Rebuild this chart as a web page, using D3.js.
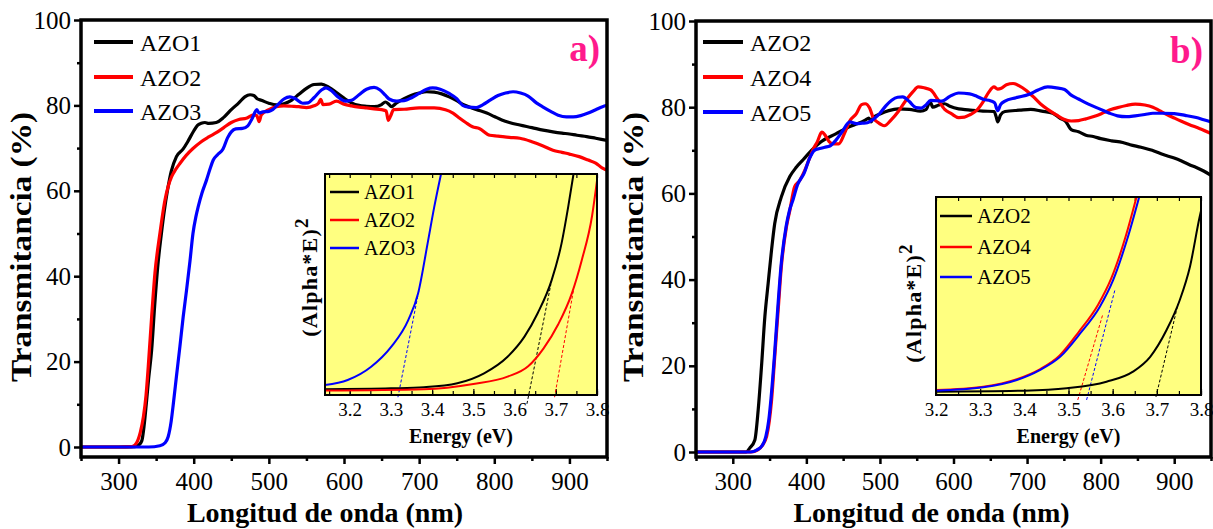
<!DOCTYPE html>
<html>
<head>
<meta charset="utf-8">
<script src="https://cdn.jsdelivr.net/npm/d3@7"></script>
</head>
<body style="margin:0;background:#fff">
<svg id="chart" width="1213" height="529"></svg>
<script>
// ---- data ----
var seriesA = ["AZO1", "AZO2", "AZO3"];
var seriesB = ["AZO2", "AZO4", "AZO5"];
var xTicks = [300, 400, 500, 600, 700, 800, 900];
var xMinor = [250, 350, 450, 550, 650, 750, 850, 950];
var yTicks = [0, 20, 40, 60, 80, 100];
var yMinor = [10, 30, 50, 70, 90];
var eTicks = [3.2, 3.3, 3.4, 3.5, 3.6, 3.7, 3.8];

// panel a) transmittance, [nm, %]
var a_azo1 = [[250,0],[300,0],[322,0.1],[327,0.5],[331,1.5],[334,5],[337,10.3],[340,16],[344,22.7],[348,33],[352,42],[357,50],[361,55.5],[365,60],[370,64.5],[377,68],[386,69.8],[392,71.5],[400,74],[405,75.3],[410,75.8],[415,76],[420,75.8],[430,76],[440,77.2],[450,79],[460,80.6],[468,82],[475,82.5],[480,82.3],[485,81.5],[490,81.2],[500,80.5],[510,80.1],[520,80.4],[530,81.2],[540,82.6],[550,84],[560,84.9],[570,85],[580,84.2],[590,83],[600,81.7],[610,80.6],[620,80],[630,79.8],[640,79.7],[650,80.2],[655,80.8],[660,80.2],[663,79.7],[670,80.6],[680,81.6],[690,82.4],[700,82.9],[710,83.2],[720,83.1],[730,82.7],[740,82],[750,81.1],[760,80.1],[770,79.4],[780,78.8],[790,78.2],[800,77.4],[810,76.6],[820,76],[834,75.4],[850,74.8],[865,74.2],[878,73.8],[890,73.5],[900,73.3],[910,73],[923,72.7],[935,72.3],[950,71.8]];
var a_azo2 = [[250,0],[300,0],[318,0.1],[324,1],[329,3.5],[333,7],[336.5,12],[339.5,18.8],[344,30.5],[348.4,40.7],[355,50],[361.7,57.8],[366,61],[370.6,63.3],[376,65],[381.6,66.4],[390,68.3],[399,69.9],[410,71.5],[420,72.6],[430,73.6],[440,74.8],[450,76],[460,76.7],[470,77],[480,77.8],[484,77.6],[487,76.2],[490,77.8],[500,79],[510,79.7],[520,79.9],[530,79.8],[540,79.7],[550,79.5],[560,79.9],[566,80.5],[569,81.4],[572,80.2],[580,80.3],[590,81],[600,80.3],[610,79.9],[620,79.6],[630,79.4],[640,79.2],[650,79],[656,78.7],[659,76.5],[662,77.5],[666,79],[680,79.1],[700,79.4],[720,79.4],[735,79],[745,78.2],[754,77],[762,76],[771,75],[780,74.6],[794,73],[805,72.8],[820,72.5],[834,72.3],[850,71.5],[865,70.5],[878,69.5],[890,69],[900,68.6],[913,68],[925,67.2],[935,66.5],[944,65.3],[950,64.8]];
var a_azo3 = [[250,0],[340,0],[355,0.3],[362,1],[366,2.4],[370,6],[373,10.3],[377,16.5],[381.6,23.5],[386,30.5],[390.5,36.8],[395,43.5],[399,50],[403,54],[406,56.3],[411,59.5],[417,62.5],[422,65.3],[426,67.2],[432,68.5],[439,69.8],[445,72.4],[450,73.8],[456,74.5],[465,74.6],[472,75.2],[478,77],[484,79],[487,78.2],[492,78.5],[500,78.6],[505,79],[512,80.2],[520,81.5],[528,82],[535,81.6],[545,80.5],[552,80.6],[560,81.8],[570,83.6],[576,84.1],[583,83.5],[592,82],[602,81],[610,81.2],[620,82.5],[630,83.8],[640,84.2],[648,83.6],[655,82.4],[660,81.5],[670,81],[680,81.1],[690,81.8],[700,82.8],[710,83.8],[718,84.1],[728,83.8],[740,82.8],[750,81.6],[758,80],[766,79.6],[776,79.5],[785,80.2],[795,81.3],[805,82.3],[815,82.9],[825,83.2],[835,82.9],[845,82.2],[856,80.6],[865,79.6],[875,78.6],[885,77.7],[896,77.3],[905,77.3],[915,77.6],[925,78.2],[935,79],[944,79.7],[950,80]];

// panel b) transmittance, [nm, %]
var b_azo2 = [[250,0],[318,0],[323,0.9],[330,2.8],[334.5,9.7],[339,19.8],[343.6,31.4],[348,39],[352.7,46.9],[357,53],[366,59.2],[377.5,63.9],[386,66],[395.6,67.8],[407,70],[420,72],[440,73.8],[460,75.6],[470,76.2],[480,77],[485,77.5],[488,76.6],[491,77.6],[500,78.4],[512,79.2],[525,79.6],[540,79.5],[555,79.1],[563,79.5],[568,81.3],[572,80],[580,80.5],[588,80.8],[595,80.2],[607,79.6],[620,79.4],[640,79.1],[655,79],[658,77.8],[660,76.6],[664,78.2],[670,79],[690,79.3],[705,79.5],[720,79.1],[735,78.6],[745,77.4],[752,76.8],[760,74.8],[770,74.3],[780,73.5],[790,73.2],[800,72.7],[815,72.2],[830,71.8],[840,71.3],[855,70.7],[870,70],[885,69],[900,68.2],[910,67.5],[920,66.7],[930,66],[940,65.2],[950,64.2]];
var b_azo4 = [[250,0],[325,0],[334,0.5],[340,1.5],[346,3.6],[349.5,7],[352.7,12],[357,22],[361.7,33],[366,43],[373,52.3],[377.5,56],[384,61.5],[391,63],[398,65.4],[404,68],[410,70.5],[415,72],[421,74.2],[426,73.4],[431,72],[436,71.5],[444,71.5],[452,74],[459,76.8],[468,78.5],[475,80.6],[480,80.8],[486,79.8],[491,77.5],[497,76.5],[506,75.7],[515,77],[525,79],[535,81.5],[545,83.6],[552,84.7],[560,84.5],[569,84],[578,82],[588,79.5],[597,78.5],[607,77.6],[615,77.7],[623,78.3],[631,79.2],[640,81.2],[648,83.5],[655,84.7],[660,84.2],[665,84.4],[672,85.2],[681,85.5],[690,84.9],[698,84],[708,82.5],[718,80.8],[728,79.5],[740,78.2],[750,77.2],[760,76.8],[770,76.9],[780,77.3],[794,78],[805,78.8],[815,79.5],[823,79.9],[835,80.4],[847,80.7],[860,80.5],[871,80],[880,79.2],[890,78.3],[900,77.5],[909,76.8],[920,76],[935,75],[950,73.9]];
var b_azo5 = [[250,0],[324,0],[333,0.5],[340,1.5],[345,3.6],[349,7.5],[352,12.5],[356.5,22],[361,33],[365.5,43],[372.5,52.3],[377,56],[382,58.6],[388,62],[397,64.7],[404,68],[411,70],[418,70.4],[425,70.7],[432,71],[440,72.3],[449,74.4],[459,76.6],[468,76.2],[476,76.3],[483,76.4],[492,77.3],[500,78.6],[508,80.3],[516,81.6],[524,82.3],[531,82.4],[540,81.3],[549,79.9],[556,79.8],[563,80.6],[569,81.6],[577,81.5],[584,81.4],[595,82.5],[607,83.3],[622,83.1],[632,82.5],[641,81.8],[650,81.5],[656,81],[660,79.2],[664,80.6],[670,81.4],[685,82.2],[703,83],[715,84],[728,84.7],[740,84.5],[751,84.1],[760,82.8],[770,81.9],[785,80.6],[800,79.5],[812,78.6],[823,78],[835,77.8],[847,78],[860,78.3],[871,78.6],[885,78.6],[900,78.5],[915,78.1],[930,77.6],[940,77.1],[950,76.6]];

// insets: (Alpha*E)^2 in arbitrary units (0..1 = inset height), [eV, value]
var ia_azo1 = [[3.14,0.026],[3.3,0.03],[3.38,0.035],[3.461,0.053],[3.526,0.098],[3.583,0.173],[3.624,0.264],[3.656,0.37],[3.69,0.52],[3.714,0.686],[3.73,0.85],[3.743,1.0]];
var ia_azo2 = [[3.14,0.02],[3.38,0.026],[3.5,0.05],[3.583,0.083],[3.633,0.13],[3.67,0.21],[3.706,0.32],[3.739,0.46],[3.763,0.61],[3.788,0.81],[3.8,0.97]];
var ia_azo3 = [[3.14,0.045],[3.195,0.068],[3.252,0.128],[3.301,0.219],[3.342,0.339],[3.366,0.46],[3.389,0.686],[3.405,0.85],[3.4215,1.0]];
// dashed linear fits, same order as the series
var ia_fits = [[[3.63,-0.04],[3.688,0.5]], [[3.697,-0.01],[3.743,0.475]], [[3.317,-0.01],[3.368,0.475]]];

var ib_azo2 = [[3.2,0.017],[3.4,0.022],[3.496,0.034],[3.586,0.067],[3.646,0.118],[3.685,0.193],[3.722,0.328],[3.752,0.48],[3.775,0.648],[3.797,0.9],[3.8,0.93]];
var ib_azo4 = [[3.2,0.025],[3.307,0.042],[3.383,0.08],[3.435,0.13],[3.48,0.2],[3.523,0.318],[3.567,0.456],[3.597,0.59],[3.628,0.79],[3.654,1.0]];
var ib_azo5 = [[3.2,0.022],[3.307,0.039],[3.383,0.076],[3.435,0.126],[3.481,0.193],[3.526,0.31],[3.571,0.446],[3.601,0.58],[3.632,0.78],[3.66,1.0]];
var ib_fits = [[[3.698,-0.01],[3.748,0.46]], [[3.521,-0.025],[3.578,0.41]], [[3.541,-0.025],[3.605,0.53]]];

var colors = ["#000000", "#ff0000", "#0000ff"];
var FONT = "'Liberation Serif'";
var svg = d3.select("#chart");
var clipId = 0;

function noDomain(sel) {
  sel.select(".domain").remove();
  sel.attr("font-family", null);
}

function serif(sel) { return sel.style("font-family", FONT); }

function drawPanel(p) {
  var g = svg.append("g");
  var x = d3.scaleLinear().domain([250, 950]).range([p.left, p.right]);
  var y = d3.scaleLinear().domain([0, 100]).range([p.zero, p.top]);

  // ticks
  g.append("g").attr("transform", "translate(0," + p.bottom + ")")
    .call(d3.axisBottom(x).tickValues(xMinor).tickSize(4).tickFormat(""))
    .call(noDomain);
  g.append("g").attr("transform", "translate(0," + p.bottom + ")")
    .call(d3.axisBottom(x).tickValues(xTicks).tickSize(7).tickPadding(8).tickFormat(d3.format("d")))
    .call(noDomain);
  g.append("g").attr("transform", "translate(" + p.left + ",0)")
    .call(d3.axisLeft(y).tickValues(yMinor).tickSize(4).tickFormat(""))
    .call(noDomain);
  g.append("g").attr("transform", "translate(" + p.left + ",0)")
    .call(d3.axisLeft(y).tickValues(yTicks).tickSize(7).tickPadding(3).tickFormat(d3.format("d")))
    .call(noDomain);
  g.selectAll(".tick line").attr("stroke", "#000").attr("stroke-width", 2.5);
  g.selectAll(".tick text").attr("font-size", 25).attr("fill", "#000").call(serif);

  // curves
  var id = "clip" + (clipId++);
  g.append("clipPath").attr("id", id).append("rect")
    .attr("x", p.left).attr("y", p.top).attr("width", p.right - p.left).attr("height", p.bottom - p.top);
  var line = d3.line().x(function(d) { return x(d[0]); }).y(function(d) { return y(d[1]); })
    .curve(d3.curveMonotoneX);
  g.append("g").attr("clip-path", "url(#" + id + ")")
    .selectAll("path").data(p.data).enter().append("path")
    .attr("d", line).attr("fill", "none")
    .attr("stroke", function(d, i) { return colors[i]; })
    .attr("stroke-width", 3.2).attr("stroke-linejoin", "round");

  // box
  g.append("rect").attr("x", p.left).attr("y", p.top)
    .attr("width", p.right - p.left).attr("height", p.bottom - p.top)
    .attr("fill", "none").attr("stroke", "#000").attr("stroke-width", 3.5);

  // legend
  var leg = g.selectAll(".leg").data(p.names).enter().append("g")
    .attr("transform", function(d, i) { return "translate(0," + p.legRows[i] + ")"; });
  leg.append("line").attr("x1", p.legX[0]).attr("x2", p.legX[1])
    .attr("stroke", function(d, i) { return colors[i]; }).attr("stroke-width", 4);
  leg.append("text").attr("x", p.legX[2]).attr("y", 8.5).attr("font-size", 24)
    .call(serif).text(function(d) { return d; });

  // panel letter
  g.append("text").attr("x", p.letter[0]).attr("y", p.letter[1]).attr("text-anchor", "end")
    .attr("font-size", 37).attr("font-weight", "bold").attr("fill", "#ff1a8c")
    .call(serif).text(p.letterText);

  // axis titles
  g.append("text").attr("x", (p.left + p.right) / 2 + p.xTitleDx).attr("y", 522)
    .attr("text-anchor", "middle").attr("font-size", 28).attr("font-weight", "bold")
    .call(serif).text("Longitud de onda (nm)");
  g.append("text").attr("transform", "translate(" + p.yTitle[0] + "," + p.yTitle[1] + ") rotate(-90)")
    .attr("text-anchor", "middle").attr("font-size", 30).attr("font-weight", "bold")
    .attr("textLength", 270).attr("lengthAdjust", "spacingAndGlyphs")
    .call(serif).text("Transmitancia (%)");

  drawInset(p.inset);
}

function drawInset(q) {
  var g = svg.append("g");
  var x = d3.scaleLinear().domain(q.domain).range([q.left, q.right]);
  var y = d3.scaleLinear().domain([0, 1]).range([q.bottom, q.top]);

  g.append("rect").attr("x", q.left).attr("y", q.top)
    .attr("width", q.right - q.left).attr("height", q.bottom - q.top)
    .attr("fill", "#ffff80");

  var minor = d3.range(Math.ceil(q.domain[0] * 20), Math.floor(q.domain[1] * 20) + 1).map(function(k) { return k / 20; });
  g.append("g").attr("transform", "translate(0," + q.bottom + ")")
    .call(d3.axisBottom(x).tickValues(minor).tickSize(-4).tickFormat("")).call(noDomain);
  g.append("g").attr("transform", "translate(0," + q.bottom + ")")
    .call(d3.axisBottom(x).tickValues(eTicks).tickSize(-6).tickPadding(8).tickFormat(d3.format(".1f"))).call(noDomain);
  g.append("g").attr("transform", "translate(0," + q.top + ")")
    .call(d3.axisTop(x).tickValues(minor).tickSize(-4).tickFormat("")).call(noDomain);
  g.selectAll(".tick line").attr("stroke", "#000").attr("stroke-width", 1.2);
  g.selectAll(".tick text").attr("font-size", 19).attr("fill", "#000").call(serif);

  var id = "clip" + (clipId++);
  g.append("clipPath").attr("id", id).append("rect")
    .attr("x", q.left).attr("y", q.top).attr("width", q.right - q.left).attr("height", q.bottom - q.top);
  var line = d3.line().x(function(d) { return x(d[0]); }).y(function(d) { return y(d[1]); })
    .curve(d3.curveMonotoneX);

  g.append("g").selectAll("path").data(q.fits).enter().append("path")
    .attr("d", d3.line().x(function(d) { return x(d[0]); }).y(function(d) { return y(d[1]); }))
    .attr("stroke", function(d, i) { return colors[i]; }).attr("stroke-width", 1)
    .attr("stroke-dasharray", "3,2").attr("fill", "none");

  g.append("g").attr("clip-path", "url(#" + id + ")")
    .selectAll("path").data(q.data).enter().append("path")
    .attr("d", line).attr("fill", "none")
    .attr("stroke", function(d, i) { return colors[i]; }).attr("stroke-width", 2);

  g.append("rect").attr("x", q.left).attr("y", q.top)
    .attr("width", q.right - q.left).attr("height", q.bottom - q.top)
    .attr("fill", "none").attr("stroke", "#000").attr("stroke-width", 2);

  var leg = g.selectAll(".leg").data(q.names).enter().append("g")
    .attr("transform", function(d, i) { return "translate(0," + q.legRows[i] + ")"; });
  leg.append("line").attr("x1", q.legX[0]).attr("x2", q.legX[1])
    .attr("stroke", function(d, i) { return colors[i]; }).attr("stroke-width", 2.5);
  leg.append("text").attr("x", q.legX[2]).attr("y", 7).attr("font-size", q.legFont)
    .call(serif).text(function(d) { return d; });

  g.append("text").attr("x", (q.left + q.right) / 2).attr("y", 443)
    .attr("text-anchor", "middle").attr("font-size", 20).attr("font-weight", "bold")
    .call(serif).text("Energy (eV)");

  var yl = g.append("text").attr("transform", "translate(" + q.yTitle[0] + "," + q.yTitle[1] + ") rotate(-90)")
    .attr("text-anchor", "middle").attr("font-size", 22).attr("font-weight", "bold")
    .attr("letter-spacing", 1.2).call(serif);
  yl.append("tspan").text("(Alpha*E)");
  yl.append("tspan").attr("dy", -9).attr("font-size", 19).text("2");
}

drawPanel({
  left: 81, right: 607, top: 20, bottom: 457, zero: 447,
  data: [a_azo1, a_azo2, a_azo3], names: seriesA,
  legRows: [42, 77, 111], legX: [94, 133, 140],
  letter: [600, 61], letterText: "a)",
  xTitleDx: -19, yTitle: [31, 247],
  inset: {
    left: 325, right: 597, top: 174, bottom: 395, domain: [3.14, 3.8],
    data: [ia_azo1, ia_azo2, ia_azo3], fits: ia_fits, names: seriesA,
    legRows: [192, 220, 248], legX: [330, 359, 364], legFont: 20,
    yTitle: [317, 277]
  }
});

drawPanel({
  left: 696, right: 1211, top: 21, bottom: 457, zero: 452,
  data: [b_azo2, b_azo4, b_azo5], names: seriesB,
  legRows: [42, 77, 112], legX: [703, 743, 750],
  letter: [1203, 63], letterText: "b)",
  xTitleDx: -22, yTitle: [643, 247],
  inset: {
    left: 936, right: 1201, top: 197, bottom: 395, domain: [3.2, 3.8],
    data: [ib_azo2, ib_azo4, ib_azo5], fits: ib_fits, names: seriesB,
    legRows: [216, 247, 277], legX: [940, 972, 977], legFont: 21,
    yTitle: [921, 303]
  }
});
</script>
</body>
</html>
